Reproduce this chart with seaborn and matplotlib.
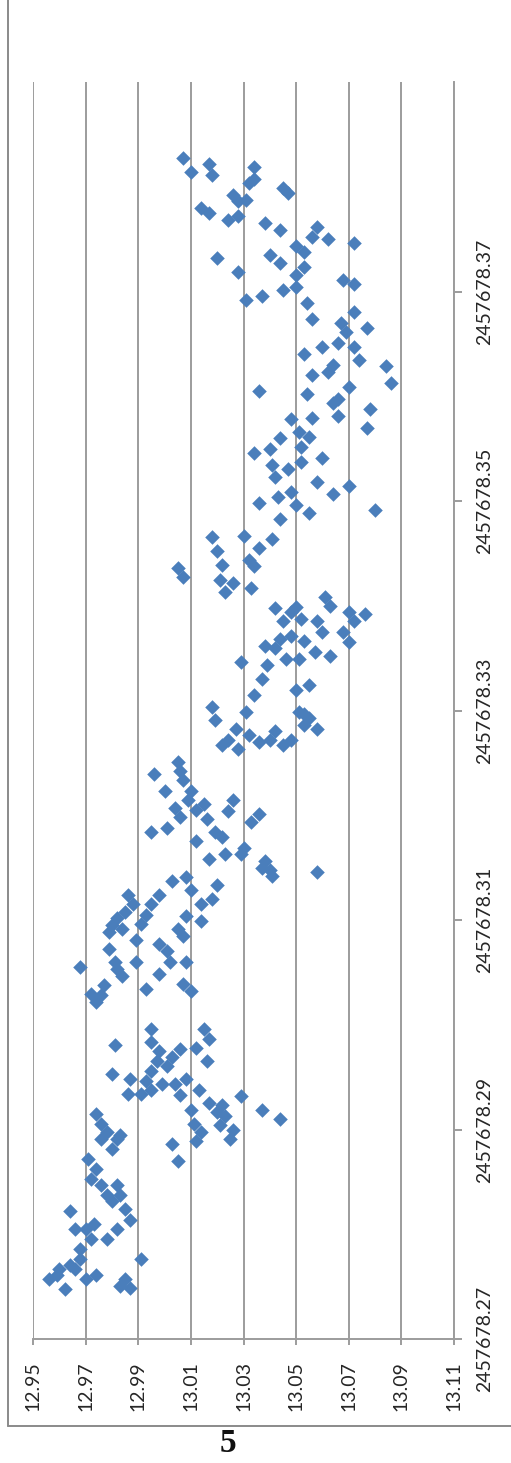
import matplotlib
matplotlib.use("Agg")
import matplotlib.pyplot as plt
import seaborn as sns
import pandas as pd
from matplotlib.lines import Line2D

# Julian date origin; observation times are stored as fractions of the day
JD0 = 2457678

# Magnitude of each observation
mag = [
    13.007, 13.010, 13.017, 13.018, 13.034, 13.032, 13.034, 13.045, 13.047, 13.026,
    13.028, 13.031, 13.014, 13.017, 13.024, 13.028, 13.038, 13.044, 13.058, 13.056,
    13.062, 13.072, 13.050, 13.053, 13.020, 13.040, 13.044, 13.028, 13.053, 13.050,
    13.068, 13.072, 13.031, 13.037, 13.045, 13.050, 13.054, 13.056, 13.072, 13.067,
    13.077, 13.069,
    13.053, 13.060, 13.066, 13.072, 13.074, 13.084, 13.086, 13.056, 13.062, 13.064,
    13.036, 13.054, 13.070, 13.064, 13.066, 13.066, 13.078, 13.077, 13.048, 13.056,
    13.051, 13.055, 13.052, 13.044, 13.034, 13.040, 13.041, 13.047, 13.042, 13.052,
    13.060, 13.048, 13.043, 13.058, 13.064, 13.070, 13.036, 13.050, 13.055, 13.044,
    13.080,
    13.018, 13.030, 13.041, 13.005, 13.007, 13.020, 13.022, 13.021, 13.023, 13.026,
    13.032, 13.034, 13.036, 13.033, 13.042, 13.045, 13.048, 13.050, 13.052, 13.048,
    13.053, 13.058, 13.061, 13.063, 13.060, 13.057, 13.051, 13.046, 13.042, 13.039,
    13.037, 13.044, 13.038, 13.070, 13.076, 13.072, 13.068, 13.070, 13.063, 13.055,
    13.050, 13.034, 13.029,
    13.053, 13.055, 13.051, 13.053, 13.058, 13.048, 13.045, 13.042, 13.032, 13.027,
    13.024, 13.028, 13.022, 13.019, 13.018, 13.031, 13.036, 13.040,
    13.005, 13.006, 13.007, 13.010, 13.012, 13.015, 13.016, 13.019, 13.022, 13.024,
    13.026, 13.029, 13.030, 13.033, 13.036, 13.038, 13.040, 13.041, 13.037, 12.995,
    13.001, 13.000, 13.004, 12.996, 13.009, 13.012, 13.017, 13.020, 13.018, 13.014,
    13.010, 13.008, 13.003, 13.058, 13.006, 13.023,
    12.986, 12.988, 12.985, 12.982, 12.980, 12.979, 12.984, 12.989, 12.991, 12.993,
    12.995, 12.998, 12.998, 13.001, 13.002, 13.005, 13.007, 13.008, 13.014, 12.979,
    12.981, 12.982, 12.984, 12.977, 12.976, 12.968, 12.974, 12.972, 12.993, 12.998,
    13.008, 13.007, 13.010, 12.989,
    12.981, 12.995, 12.995, 12.998, 12.997, 13.001, 13.003, 13.006, 13.012, 13.015,
    13.017, 13.016, 12.995, 12.993, 12.991, 12.995, 12.999, 13.004, 13.008, 13.006,
    13.013, 12.980, 12.986, 12.987,
    13.010, 13.011, 13.014, 13.012, 13.017, 13.020, 13.022, 13.023, 13.026, 13.025,
    13.021, 13.029, 13.037, 13.044, 13.003, 13.005,
    12.974, 12.976, 12.978, 12.980, 12.976, 12.982, 12.983, 12.971, 12.974, 12.972,
    12.976, 12.978, 12.982, 12.983, 12.980, 12.985, 12.987, 12.982, 12.978, 12.972,
    12.968, 12.964, 12.966, 12.970, 12.974, 12.960, 12.956, 12.959, 12.962, 12.983,
    12.985, 12.987, 12.970, 12.964, 12.966, 12.973, 12.968, 12.991,
]

# Observation time, JD - JD0
jd_frac = [
    .3827, .3814, .3822, .3811, .3819, .3804, .3807, .3799, .3794, .3792,
    .3786, .3787, .3780, .3775, .3768, .3772, .3765, .3759, .3762, .3752,
    .3750, .3746, .3743, .3738, .3732, .3735, .3727, .3719, .3723, .3716,
    .3711, .3707, .3692, .3696, .3701, .3704, .3689, .3674, .3680, .3670,
    .3665, .3661,
    .3640, .3647, .3651, .3647, .3635, .3629, .3613, .3620, .3623, .3630,
    .3605, .3602, .3609, .3594, .3597, .3581, .3588, .3570, .3578, .3579,
    .3566, .3561, .3552, .3560, .3546, .3550, .3534, .3531, .3523, .3537,
    .3541, .3509, .3504, .3518, .3507, .3514, .3498, .3496, .3489, .3483,
    .3491,
    .3466, .3467, .3464, .3436, .3427, .3452, .3439, .3425, .3413, .3422,
    .3444, .3438, .3455, .3417, .3398, .3385, .3394, .3399, .3387, .3371,
    .3366, .3385, .3408, .3400, .3375, .3356, .3349, .3349, .3360, .3343,
    .3330, .3368, .3362, .3394, .3392, .3385, .3375, .3365, .3352, .3324,
    .3320, .3315, .3346,
    .3297, .3293, .3299, .3286, .3282, .3272, .3267, .3280, .3277, .3282,
    .3272, .3263, .3267, .3291, .3303, .3299, .3270, .3272,
    .3251, .3242, .3234, .3223, .3205, .3211, .3196, .3184, .3179, .3204,
    .3215, .3163, .3169, .3194, .3201, .3156, .3148, .3142, .3150, .3184,
    .3188, .3223, .3207, .3239, .3215, .3175, .3158, .3133, .3120, .3115,
    .3129, .3141, .3137, .3146, .3198, .3163,
    .3124, .3115, .3108, .3102, .3095, .3089, .3091, .3081, .3096, .3105,
    .3115, .3124, .3077, .3070, .3060, .3091, .3085, .3104, .3099, .3072,
    .3060, .3053, .3047, .3038, .3028, .3055, .3022, .3029, .3034, .3048,
    .3060, .3039, .3032, .3060,
    .2981, .2996, .2984, .2975, .2965, .2961, .2969, .2977, .2978, .2996,
    .2986, .2965, .2956, .2946, .2934, .2938, .2943, .2943, .2948, .2933,
    .2938, .2953, .2934, .2948,
    .2919, .2905, .2898, .2889, .2925, .2917, .2923, .2913, .2900, .2891,
    .2904, .2932, .2919, .2910, .2886, .2870,
    .2915, .2905, .2898, .2881, .2891, .2891, .2895, .2872, .2862, .2853,
    .2847, .2837, .2847, .2837, .2832, .2824, .2814, .2805, .2795, .2795,
    .2786, .2771, .2767, .2757, .2761, .2767, .2757, .2761, .2748, .2751,
    .2757, .2749, .2805, .2822, .2805, .2810, .2776, .2776,
]

mag_ticks = [12.95, 12.97, 12.99, 13.01, 13.03, 13.05, 13.07, 13.09, 13.11]
mag_labels = ["12.95", "12.97", "12.99", "13.01", "13.03", "13.05", "13.07", "13.09", "13.11"]
jd_ticks = [0.27, 0.29, 0.31, 0.33, 0.35, 0.37]
jd_labels = ["2457678.27", "2457678.29", "2457678.31", "2457678.33", "2457678.35", "2457678.37"]

sns.set_style("white")
plt.rcParams["font.family"] = ["Lato", "DejaVu Sans"]

GRID = "#9c9c9c"
POINT = "#4a7ebb"
TEXT = "#262626"

fig = plt.figure(figsize=(5.11, 14.63), dpi=100)
ax = fig.add_axes([33 / 511, 1 - 1339 / 1463, 421 / 511, 1257 / 1463])

df = pd.DataFrame({"mag": mag, "jd": [JD0 + f for f in jd_frac]})
sns.scatterplot(data=df, x="mag", y="jd", marker="D", s=55, color=POINT,
                linewidth=0, ax=ax, zorder=3)

ax.set_xlim(12.95, 13.11)
ax.set_ylim(JD0 + 0.27, JD0 + 0.39)
ax.set_xticks(mag_ticks)
ax.set_xticklabels(mag_labels, rotation=90)
ax.set_yticks([JD0 + t for t in jd_ticks])
ax.set_yticklabels(jd_labels, rotation=90, va="center")
ax.yaxis.tick_right()
ax.set_xlabel("")
ax.set_ylabel("")

ax.set_axisbelow(True)
ax.grid(axis="x", color=GRID, linewidth=1.4)
ax.grid(axis="y", visible=False)
for side in ["left", "top"]:
    ax.spines[side].set_visible(False)
for side in ["bottom", "right"]:
    ax.spines[side].set_color(GRID)
    ax.spines[side].set_linewidth(1.4)

ax.tick_params(axis="x", bottom=True, direction="out", length=4, width=1.4,
               color=GRID, pad=12, labelsize=14, labelcolor=TEXT)
ax.tick_params(axis="y", right=True, left=False, direction="out", length=6,
               width=1.4, color=GRID, pad=10, labelsize=14, labelcolor=TEXT)

# Page frame and page number
fig.add_artist(Line2D([8 / 511, 8 / 511], [1 - 1426 / 1463, 1],
                      transform=fig.transFigure, color="#8a8a8a", linewidth=1.4))
fig.add_artist(Line2D([8 / 511, 1], [1 - 1426 / 1463, 1 - 1426 / 1463],
                      transform=fig.transFigure, color="#8a8a8a", linewidth=1.4))
fig.text(228 / 511, 1 - 1443 / 1463, "5", ha="center", va="center",
         fontsize=24, fontweight="bold", family="Liberation Serif", color="#111111")

fig.savefig("out.png", dpi=100)
